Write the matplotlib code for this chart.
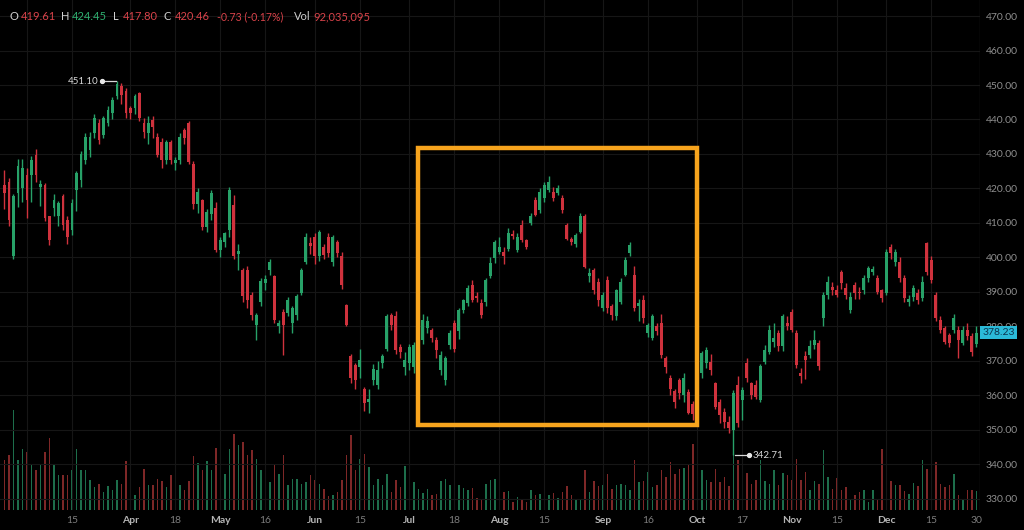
import numpy as np
import pandas as pd
import matplotlib
matplotlib.use("Agg")
import matplotlib.pyplot as plt
import matplotlib.transforms as mtransforms
from matplotlib.patches import Rectangle

plt.rcParams['font.family'] = ['Lato', 'DejaVu Sans']

# ---- data -----------------------------------------------------------------
holidays = ['2022-04-15', '2022-05-30', '2022-06-20', '2022-07-04',
            '2022-09-05', '2022-11-24', '2022-12-26']

opens = [
    421.0, 422.0, 400.3, 418.6, 420.0, 423.9, 423.9, 429.7, 420.3, 421.0,
    411.9, 414.3, 411.9, 417.7, 410.8, 408.0, 419.6, 422.4, 428.2, 431.2,
    436.0, 438.9, 435.5, 438.9, 441.8, 446.8, 449.8, 448.2, 443.3, 443.3,
    447.7, 438.9, 436.0, 439.9, 435.0, 433.5, 428.2, 433.5, 427.3, 428.2,
    437.0, 438.9, 427.2, 415.6, 416.7, 408.9, 412.7, 414.2, 402.2, 404.5,
    408.0, 415.2, 401.0, 396.4, 396.4, 389.2, 380.5, 387.2, 392.5, 396.4,
    394.5, 380.0, 384.3, 383.9, 381.0, 383.3, 389.7, 398.7, 404.3, 406.0,
    400.3, 403.1, 406.0, 398.7, 404.5, 400.3, 386.2, 371.3, 368.8, 368.3,
    362.0, 358.0, 364.5, 363.0, 369.3, 373.6, 383.3, 382.9, 374.1, 368.3,
    369.3, 368.3, 374.0, 376.1, 379.5, 379.0, 376.1, 367.4, 364.5, 374.6,
    381.0, 378.6, 384.8, 386.8, 392.0, 388.8, 386.8, 387.2, 394.5, 399.8,
    401.5, 401.7, 402.6, 406.8, 402.1, 409.4, 405.0, 409.9, 416.7, 413.8,
    417.2, 419.6, 419.1, 418.6, 417.2, 409.4, 405.5, 404.0, 407.5, 411.9,
    394.5, 396.4, 393.0, 385.3, 393.5, 385.8, 382.9, 387.2, 395.0, 401.2,
    395.0, 385.8, 387.7, 378.1, 376.6, 380.0, 381.0, 370.8, 365.0, 361.2,
    364.5, 360.2, 361.0, 357.5, 355.3, 366.4, 369.3, 369.8, 363.5, 358.2,
    355.3, 352.4, 350.0, 363.0, 358.7, 369.3, 363.5, 363.0, 358.7, 369.8,
    372.7, 375.6, 378.0, 374.2, 380.9, 384.3, 378.0, 366.5, 371.3, 371.7,
    374.6, 375.1, 382.4, 389.1, 391.5, 390.6, 395.9, 391.1, 384.8, 392.0,
    390.1, 390.6, 394.0, 395.9, 394.0, 390.6, 389.6, 403.1, 398.8, 398.8,
    394.0, 387.2, 388.6, 389.6, 388.2, 404.1, 399.3, 389.1, 381.9, 379.5,
    377.5, 379.0, 379.0, 375.1, 379.0, 377.1, 374.8,
]
highs = [
    425.5, 423.0, 418.5, 428.5, 428.5, 426.0, 429.5, 431.5, 422.5, 421.5,
    412.0, 418.5, 416.5, 418.5, 412.0, 417.0, 425.0, 431.0, 436.0, 436.5,
    441.5, 440.0, 441.0, 444.0, 446.5, 451.1, 450.5, 449.0, 444.0, 447.5,
    448.0, 440.5, 441.0, 441.0, 436.0, 434.5, 434.0, 434.0, 429.0, 436.0,
    437.5, 439.5, 428.0, 420.0, 417.0, 414.0, 419.5, 416.0, 406.0, 407.5,
    420.5, 418.0, 404.0, 397.0, 397.5, 390.0, 384.0, 394.0, 395.0, 399.5,
    395.0, 382.0, 385.0, 388.5, 386.0, 389.5, 397.0, 407.0, 406.0, 407.0,
    408.0, 404.0, 407.0, 406.5, 405.0, 401.5, 386.5, 372.0, 369.5, 373.5,
    362.5, 362.0, 369.0, 370.0, 372.0, 383.5, 384.0, 384.5, 375.0, 372.5,
    375.0, 375.5, 380.0, 383.5, 383.0, 379.5, 377.0, 373.0, 371.5, 379.0,
    382.0, 385.5, 388.0, 392.0, 393.5, 390.0, 388.0, 394.0, 400.0, 405.0,
    406.0, 403.0, 408.5, 408.0, 407.0, 411.0, 405.5, 413.0, 417.5, 420.0,
    422.0, 423.5, 420.5, 421.0, 418.0, 410.0, 406.0, 407.0, 413.0, 412.5,
    397.0, 397.0, 394.0, 390.0, 394.5, 386.5, 391.0, 394.0, 400.0, 404.5,
    397.5, 388.0, 389.0, 381.0, 383.5, 381.0, 383.5, 371.5, 366.0, 362.0,
    365.0, 366.5, 362.0, 358.5, 362.0, 373.0, 374.0, 372.0, 364.0, 359.0,
    356.5, 354.0, 361.5, 365.5, 362.5, 371.0, 364.0, 364.5, 369.0, 374.5,
    380.5, 381.0, 379.0, 383.5, 383.0, 385.0, 379.0, 368.0, 373.0, 376.0,
    379.0, 376.0, 390.0, 394.5, 393.0, 392.0, 396.5, 392.5, 390.0, 393.0,
    391.5, 395.0, 397.5, 397.5, 395.0, 391.0, 402.5, 404.0, 402.5, 400.0,
    395.0, 389.0, 392.0, 391.0, 394.5, 404.5, 400.5, 390.0, 383.0, 380.0,
    378.0, 383.5, 380.0, 380.0, 381.0, 378.0, 380.0,
]
lows = [
    414.0, 409.0, 399.5, 414.5, 416.0, 411.5, 416.0, 422.0, 415.0, 410.5,
    403.5, 412.0, 409.0, 408.0, 404.0, 406.5, 413.5, 420.5, 427.0, 429.0,
    434.5, 433.0, 434.5, 438.0, 440.0, 445.8, 444.5, 440.5, 440.0, 441.5,
    439.5, 434.5, 433.0, 434.5, 429.0, 426.0, 427.0, 427.0, 425.5, 427.0,
    433.0, 427.0, 414.0, 413.0, 408.0, 407.5, 411.0, 401.5, 400.0, 403.0,
    406.0, 399.5, 396.5, 387.0, 385.5, 382.0, 376.2, 386.0, 390.5, 395.0,
    381.0, 378.0, 371.8, 383.0, 378.0, 382.0, 389.0, 398.0, 401.0, 398.0,
    399.0, 399.5, 400.0, 397.5, 400.0, 391.0, 380.0, 363.5, 362.0, 365.0,
    355.5, 355.0, 363.0, 362.0, 368.0, 373.0, 379.0, 372.0, 371.0, 366.0,
    367.5, 366.5, 373.5, 375.0, 378.0, 375.5, 371.0, 366.0, 363.0, 373.5,
    372.5, 376.5, 384.0, 386.0, 387.0, 387.0, 382.5, 386.0, 394.0, 398.5,
    401.0, 398.0, 402.0, 405.5, 401.5, 404.5, 402.5, 409.5, 412.0, 413.0,
    416.0, 419.0, 416.5, 418.0, 413.0, 405.0, 403.5, 403.0, 407.0, 397.0,
    393.0, 389.5, 386.0, 384.5, 384.0, 382.0, 382.0, 386.5, 394.5, 400.5,
    384.5, 381.5, 381.0, 377.0, 376.0, 377.5, 371.0, 366.5, 360.0, 356.5,
    359.0, 358.0, 354.5, 353.0, 351.5, 365.0, 368.0, 366.0, 356.0, 352.0,
    350.5, 349.0, 342.71, 351.0, 353.0, 364.0, 359.0, 359.0, 358.0, 369.0,
    372.0, 374.0, 373.0, 373.0, 379.0, 378.5, 368.0, 363.5, 364.8, 371.0,
    373.5, 367.5, 380.0, 388.0, 389.0, 388.5, 391.0, 388.0, 384.0, 388.0,
    388.0, 389.5, 393.0, 395.0, 389.5, 387.0, 389.0, 399.5, 397.5, 393.0,
    387.0, 386.0, 387.5, 386.5, 387.5, 395.0, 392.5, 381.5, 378.0, 375.0,
    374.0, 378.0, 370.8, 374.5, 376.0, 371.5, 374.0,
]
closes = [
    418.6, 410.9, 417.7, 426.5, 425.8, 416.6, 428.2, 423.9, 421.3, 411.4,
    405.1, 416.7, 415.7, 409.4, 406.0, 415.7, 424.4, 430.1, 435.0, 435.0,
    440.4, 434.0, 440.4, 442.8, 445.7, 450.2, 447.2, 441.9, 441.9, 446.9,
    440.4, 436.5, 438.9, 437.9, 429.7, 428.2, 433.5, 428.2, 428.2, 435.0,
    434.5, 427.7, 415.6, 419.1, 408.9, 413.2, 418.6, 402.2, 405.0, 407.0,
    419.6, 400.3, 402.0, 388.7, 387.7, 383.3, 383.3, 393.1, 393.7, 398.7,
    381.9, 381.0, 380.5, 387.7, 385.3, 388.7, 396.4, 406.0, 403.3, 400.3,
    407.5, 400.8, 401.2, 406.0, 401.2, 392.0, 380.5, 365.0, 364.5, 370.3,
    357.7, 359.0, 367.8, 367.4, 371.3, 382.9, 380.5, 373.3, 372.7, 370.3,
    374.1, 374.6, 378.0, 381.9, 381.5, 376.6, 373.3, 371.8, 370.8, 378.1,
    373.6, 384.8, 387.7, 391.2, 387.7, 388.2, 383.3, 393.5, 398.4, 404.5,
    403.0, 400.3, 407.0, 406.2, 406.0, 405.0, 403.1, 411.9, 412.4, 419.1,
    421.0, 422.0, 417.2, 420.1, 413.8, 405.5, 404.6, 406.5, 411.9, 397.3,
    395.5, 390.6, 387.7, 389.2, 385.3, 383.3, 390.6, 393.0, 399.3, 403.6,
    385.3, 386.8, 382.4, 380.5, 382.9, 378.6, 371.8, 368.3, 362.0, 358.2,
    360.7, 365.0, 355.0, 354.5, 361.1, 372.2, 373.2, 367.4, 356.8, 354.4,
    352.4, 350.5, 360.6, 352.0, 361.6, 365.0, 360.1, 359.7, 368.4, 373.2,
    379.0, 376.6, 374.2, 382.9, 380.0, 379.0, 368.8, 365.5, 370.3, 374.2,
    376.1, 368.4, 389.1, 393.0, 390.5, 389.1, 392.5, 389.1, 388.6, 389.6,
    389.6, 394.0, 396.9, 396.6, 390.1, 388.2, 401.7, 401.2, 401.7, 394.0,
    388.2, 387.9, 391.1, 387.7, 393.0, 395.9, 393.5, 382.4, 379.0, 375.6,
    375.1, 382.4, 376.1, 379.0, 377.1, 372.7, 378.23,
]
# volume, millions of shares
volumes = [
    100, 110, 200, 100, 123, 117, 93, 80, 90, 117,
    145, 93, 70, 70, 70, 80, 123, 80, 80, 60,
    47, 53, 37, 49, 40, 60, 53, 98, 63, 30,
    47, 83, 50, 51, 63, 59, 47, 71, 37, 50,
    40, 59, 109, 95, 80, 98, 80, 125, 137, 73,
    123, 153, 130, 137, 110, 121, 102, 80, 50, 57,
    93, 73, 110, 50, 63, 63, 53, 57, 70, 60,
    53, 43, 29, 30, 37, 60, 111, 151, 80, 103,
    113, 87, 50, 63, 51, 73, 37, 60, 47, 89,
    47, 57, 42, 35, 42, 30, 33, 59, 63, 50,
    40, 50, 45, 40, 45, 25, 23, 53, 60, 62,
    47, 37, 38, 17, 27, 23, 17, 40, 30, 33,
    27, 31, 35, 25, 37, 49, 30, 20, 22, 80,
    37, 58, 49, 50, 73, 42, 50, 52, 50, 40,
    100, 57, 59, 77, 47, 50, 80, 67, 97, 73,
    83, 85, 90, 133, 63, 80, 60, 57, 83, 57,
    67, 49, 117, 100, 67, 75, 53, 60, 100, 58,
    53, 80, 50, 75, 71, 60, 103, 60, 77, 40,
    58, 53, 120, 67, 43, 65, 40, 47, 23, 30,
    37, 40, 17, 40, 23, 123, 57, 58, 51, 50,
    38, 33, 55, 49, 100, 83, 93, 97, 53, 47,
    50, 73, 30, 23, 40, 40, 38,
]

tick_dates = ['2022-03-01', '2022-03-15', '2022-04-01', '2022-04-18', '2022-05-02',
              '2022-05-16', '2022-06-01', '2022-06-15', '2022-07-01', '2022-07-18',
              '2022-08-01', '2022-08-15', '2022-09-01', '2022-09-16', '2022-10-03',
              '2022-10-17', '2022-11-01', '2022-11-15', '2022-12-01', '2022-12-15',
              '2022-12-30']
tick_labels = ['', '15', 'Apr', '18', 'May', '16', 'Jun', '15', 'Jul', '18', 'Aug',
               '15', 'Sep', '16', 'Oct', '17', 'Nov', '15', 'Dec', '15', '30']
price_ticks = list(range(330, 480, 10))

header = [('O', '419.61'), ('H', '424.45'), ('L', '417.80'), ('C', '420.46')]
change_text = '-0.73 (-0.17%)'
vol_text = '92,035,095'

# highlighted region (trading-day index, price)
box_start, box_end = 91.9, 153.9
box_low, box_high = 351.4, 431.7

# ---- styling --------------------------------------------------------------
BG = '#000000'
UP = '#27a168'
DOWN = '#cf323d'
UP_VOL = '#1d6e4b'
DOWN_VOL = '#7e2727'
GRID = '#161616'
AXIS_TXT = '#8f8f8f'

dates = pd.bdate_range('2022-02-22', '2022-12-30', freq='C', holidays=holidays)
n = len(closes)
dates = dates[:n]
x = np.arange(n)
o = np.array(opens)
h = np.array(highs)
l = np.array(lows)
c = np.array(closes)
up = c >= o

W, H = 1024, 530
fig = plt.figure(figsize=(W / 100, H / 100), dpi=100, facecolor=BG)
ax = fig.add_axes([0, 20 / H, 980 / W, 510 / H])
ax2 = ax.twinx()
ax.set_zorder(ax2.get_zorder() + 1)
ax.patch.set_visible(False)
ax2.set_facecolor(BG)

# volume
ax2.bar(x, volumes, width=0.38, color=np.where(up, UP_VOL, DOWN_VOL), zorder=2)
ax2.set_ylim(0, 1020)
ax2.set_yticks([])
for s in ax2.spines.values():
    s.set_visible(False)

# candles
cols = np.where(up, UP, DOWN)
ax.vlines(x, l, h, colors=cols, linewidth=1.0, zorder=3)
body_lo = np.minimum(o, c)
body_h = np.maximum(np.abs(c - o), 0.35)
ax.bar(x, body_h, bottom=body_lo, width=0.66, color=cols, zorder=4, linewidth=0)

ax.set_xlim(-1.0, 216.8)
ax.set_ylim(326.8, 474.64)

# grid
tick_pos = [int(np.searchsorted(dates, pd.Timestamp(d))) for d in tick_dates]
for p in price_ticks:
    ax.axhline(p, color=GRID, linewidth=0.8, zorder=0)
for p in tick_pos[:-1]:
    ax.axvline(p, color=GRID, linewidth=0.8, zorder=0)

for s in ax.spines.values():
    s.set_visible(False)
ax.axvline(216.8, color='#1e1e1e', linewidth=1.0, zorder=1)

ax.yaxis.tick_right()
ax.set_yticks(price_ticks)
ax.set_yticklabels([f'{p:.2f}' for p in price_ticks])
ax.tick_params(axis='y', length=0, pad=4, labelsize=7.5, labelcolor=AXIS_TXT)
ax.set_xticks(tick_pos)
ax.set_xticklabels(tick_labels)
ax.tick_params(axis='x', length=0, pad=4, labelsize=7.5)
for lab in ax.get_xticklabels():
    if lab.get_text().isalpha():
        lab.set_color('#b5b5b5')
        lab.set_fontweight('bold')
    else:
        lab.set_color('#7c7c7c')

# highlight box
ax.add_patch(Rectangle((box_start, box_low), box_end - box_start, box_high - box_low,
                       fill=False, edgecolor='#f7a41d', linewidth=3.2, zorder=6))

# high / low markers
ih = int(np.argmax(h))
ax.plot([ih - 3.4, ih - 0.3], [h[ih], h[ih]], color='#d8d8d8', linewidth=0.9, zorder=5)
ax.plot([ih - 3.4], [h[ih]], 'o', color='#e8e8e8', markersize=2.8, zorder=5)
ax.text(ih - 4.2, h[ih], f'{h[ih]:.2f}', color='#d8d8d8', fontsize=7,
        ha='right', va='center', zorder=5)
il = int(np.argmin(l))
ax.plot([il + 0.3, il + 3.4], [l[il], l[il]], color='#d8d8d8', linewidth=0.9, zorder=5)
ax.plot([il + 3.4], [l[il]], 'o', color='#e8e8e8', markersize=2.8, zorder=5)
ax.text(il + 4.3, l[il], f'{l[il]:.2f}', color='#d8d8d8', fontsize=7,
        ha='left', va='center', zorder=5)

# last price tag
trans = mtransforms.blended_transform_factory(ax.transAxes, ax.transData)
ax.text(1.0025, c[-1], f'{c[-1]:.2f}', transform=trans, fontsize=7.5, color='#0c3550',
        ha='left', va='center', zorder=10, clip_on=False,
        bbox=dict(boxstyle='square,pad=0.22', facecolor='#2bbad8', edgecolor='none'))

# header
ty = 1 - 17 / H
lab_x = [10, 61, 113, 164]
val_x = [21, 72, 123, 175]
val_cols = ['#d9434a', '#2fb071', '#d9434a', '#d9434a']
for (k, v), lx, vx, vc in zip(header, lab_x, val_x, val_cols):
    fig.text(lx / W, ty, k, color='#cfcfcf', fontsize=8, va='center')
    fig.text(vx / W, ty, v, color=vc, fontsize=8, va='center')
fig.text(217 / W, ty, change_text, color='#d9434a', fontsize=7.6, va='center')
fig.text(294 / W, ty, 'Vol', color='#cfcfcf', fontsize=8, va='center')
fig.text(313 / W, ty, vol_text, color='#d9434a', fontsize=8, va='center')

fig.savefig('out.png', dpi=100, facecolor=BG)
